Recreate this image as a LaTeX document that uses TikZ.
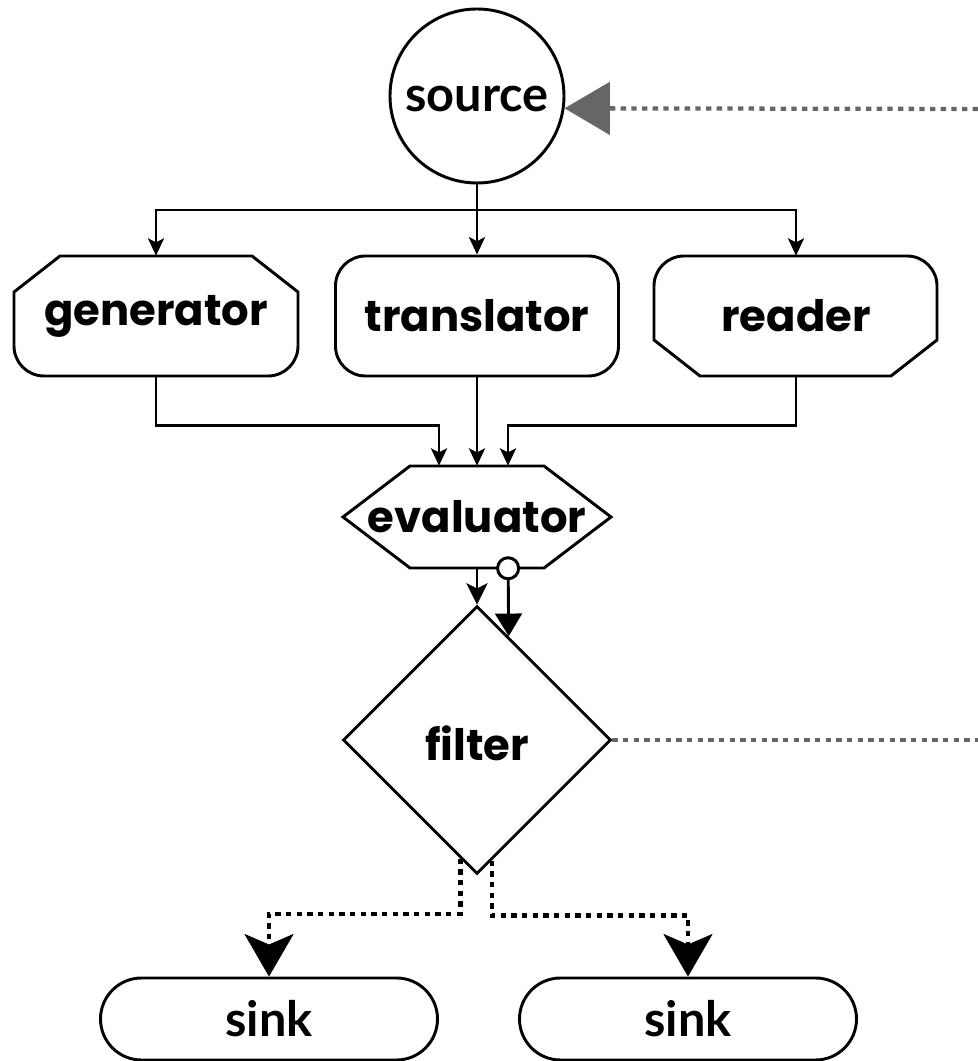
\documentclass[tikz,border=0pt]{standalone}
\usepackage{fontspec}
\newfontfamily\boxfont{Poppins}
\newfontfamily\endfont{Lato}
\usetikzlibrary{arrows.meta,shapes.geometric,calc}
\definecolor{feedgray}{HTML}{666666}
\newcommand\pxl[1]{#1*0.75pt}

\tikzset{
  outline/.style={draw=black, line width=2.2pt},
  boxlabel/.style={font=\boxfont\bfseries\fontsize{32.5pt}{38pt}\selectfont, inner sep=0pt},
  endlabel/.style={font=\endfont\bfseries\fontsize{36.5pt}{42pt}\selectfont, inner sep=0pt},
  conn/.style={draw=black, line width=2.2pt, -{Stealth[length=13pt,width=12pt,inset=3pt]}},
  bigconn/.style={draw=black, line width=2.2pt, -{Stealth[length=16pt,width=16pt,inset=4pt]}},
  tapconn/.style={draw=black, line width=2.2pt,
    {Circle[length=18pt,fill=white]}-{Triangle[length=17pt,width=20pt]}},
  feed/.style={draw=feedgray, line width=3.2pt, dash pattern=on 4pt off 4pt},
  dotconn/.style={draw=black, line width=3.4pt, dash pattern=on 4pt off 4pt,
    -{Stealth[length=32pt,width=37pt,inset=8pt,line width=0.5pt]}},
}

\begin{document}
\begin{tikzpicture}[x=0.75pt,y=0.75pt]
\useasboundingbox (0,0) rectangle (978,1061);

% ---- source ----
\node[circle, outline, minimum size={\pxl{174}}, inner sep=0pt] (source) at (477,965) {};
\node[endlabel] at ($(source)+(0,-3)$) {source};

% ---- three producers ----
% generator: chamfered top, rounded bottom
\draw[outline] (60,805) -- (252,805) -- (298,769) -- (298,715)
  arc[start angle=0,end angle=-90,radius=30] -- (44,685)
  arc[start angle=270,end angle=180,radius=30] -- (14,769) -- cycle;
\node[minimum width={\pxl{284}}, minimum height={\pxl{120}}, inner sep=0pt] (gen) at (156,745) {};
\node[boxlabel] at (gen) {generator};

% translator: rounded all round
\node[outline, rounded corners={\pxl{30}}, minimum width={\pxl{283}}, minimum height={\pxl{120}}, inner sep=0pt] (trans) at (477,745) {};
\node[boxlabel] at (trans) {translator};

% reader: rounded top, chamfered bottom
\draw[outline] (654,721) -- (654,775)
  arc[start angle=180,end angle=90,radius=30] -- (907,805)
  arc[start angle=90,end angle=0,radius=30] -- (937,721)
  -- (891,685) -- (700,685) -- cycle;
\node[minimum width={\pxl{283}}, minimum height={\pxl{120}}, inner sep=0pt] (reader) at (796,745) {};
\node[boxlabel] at (reader) {reader};

% ---- evaluator (hexagon) ----
\draw[outline] (343,544) -- (410,595) -- (544,595) -- (611,544) -- (544,493) -- (410,493) -- cycle;
\node[minimum width={\pxl{268}}, minimum height={\pxl{102}}, inner sep=0pt] (eval) at (477,544) {};
\node[boxlabel] at (eval) {evaluator};

% ---- filter (diamond) ----
\node[diamond, outline, minimum width={\pxl{268}}, minimum height={\pxl{268}}, inner sep=0pt] (filter) at (477,321) {};
\node[boxlabel] at ($(filter)+(0,-3)$) {filter};

% ---- sinks ----
\node[outline, rounded corners={\pxl{41}}, minimum width={\pxl{337}}, minimum height={\pxl{82}}, inner sep=0pt] (sinkL) at (269,42) {};
\node[endlabel] at (sinkL) {sink};
\node[outline, rounded corners={\pxl{41}}, minimum width={\pxl{337}}, minimum height={\pxl{82}}, inner sep=0pt] (sinkR) at (688,42) {};
\node[endlabel] at (sinkR) {sink};

% ---- helper points ----
\coordinate (split) at (477,851);
\coordinate (evinL) at ($(eval.north)+(-38,0)$);
\coordinate (evinR) at ($(eval.north)+(31,0)$);
\coordinate (evtap) at ($(eval.south)+(31,12)$);
\coordinate (srcfeed) at (978,952);
\coordinate (fltfeed) at (978,321);

% ---- connectors ----
\draw[outline] (source.south) -- (split);
\draw[conn] (split) -| (gen.north);
\draw[conn] (split) -- (trans.north);
\draw[conn] (split) -| (reader.north);

\draw[conn] (gen.south) -- ++(0,-49) -| (evinL);
\draw[conn] (trans.south) -- (eval.north);
\draw[conn] (reader.south) -- ++(0,-49) -| (evinR);

\draw[bigconn] (eval.south) -- (filter.north);
\draw[tapconn] (evtap) -- (filter.73.3);

\draw[feed, -{Triangle[length=34pt,width=40pt,fill=feedgray,line width=0pt]}] (srcfeed) -- (source.-8.6);
\draw[feed] (filter.east) -- (fltfeed);

\draw[dotconn] (filter.262.3) -- ++(0,-55) -| (sinkL.north);
\draw[dotconn] (filter.277.7) -- ++(0,-55) -| (sinkR.north);
\end{tikzpicture}
\end{document}
